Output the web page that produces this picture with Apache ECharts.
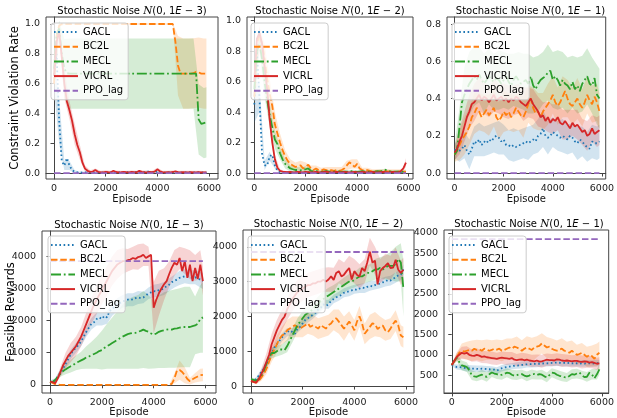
<!DOCTYPE html>
<html>
<head>
<meta charset="utf-8">
<script src="https://cdn.jsdelivr.net/npm/echarts@6/dist/echarts.min.js"></script>
<style>
html, body { margin: 0; padding: 0; background: #fff; }
#chart { width: 617px; height: 418px; }
</style>
</head>
<body>
<div id="chart"></div>
<script>
// ---------- tick labels ----------
const episodeTicks = [0, 2000, 4000, 6000];
const rateTicks = [0, 0.2, 0.4, 0.6, 0.8, 1.0];
const rateTicksLow = [0, 0.2, 0.4, 0.6, 0.8];
const rewardTicks = [0, 1000, 2000, 3000, 4000];
const rewardTicksFine = [500, 1000, 1500, 2000, 2500, 3000, 3500, 4000];

const methods = ['GACL', 'BC2L', 'MECL', 'VICRL', 'PPO_lag'];

// sample grid of the curves (every 100 episodes) and of the shaded spreads
const episodes = Array.from({ length: 60 }, (_, i) => i * 100);
const bandEpisodes = [0, 200, 400, 600, 800, 1000, 1200, 1400, 1600, 1800, 2000, 2200, 2400, 2600, 2800,
  3000, 3200, 3400, 3600, 3800, 4000, 4200, 4400, 4600, 4800, 5000, 5200, 5400, 5600, 5800, 5900];

// ---------- constraint violation rate, noise 1E-3 ----------
const rate3_gacl = [0.66,0.8,0.35,0.08,0.05,0.1,0.05,0.02,0.008,0.005, 0.004,0.003,0.005,0.004,0.006,0.004,0.003,0.005,0.004,0.003, 0.005,0.006,0.004,0.003,0.004,0.005,0.004,0.003,0.006,0.005, 0.004,0.005,0.007,0.004,0.003,0.006,0.012,0.006,0.004,0.005, 0.01,0.006,0.004,0.003,0.005,0.004,0.003,0.004,0.005,0.004, 0.003,0.005,0.004,0.006,0.004,0.003,0.004,0.005,0.004,0.005];
const rate3_bc2l = [0.6,0.92,0.99,1,1,1,1,1,1,1, 1,1,1,1,1,1,1,1,1,1, 1,1,1,1,1,1,1,1,1,1, 1,1,1,1,1,1,1,1,1,1, 1,1,1,1,1,1,1,0.88,0.72,0.667, 0.667,0.667,0.667,0.667,0.67,0.68,0.675,0.667,0.667,0.667];
const rate3_mecl = [0.7,0.93,0.97,0.8,0.7,0.67,0.667,0.667,0.667,0.667, 0.667,0.667,0.667,0.667,0.667,0.667,0.667,0.667,0.667,0.667, 0.667,0.667,0.667,0.667,0.667,0.667,0.667,0.667,0.667,0.667, 0.667,0.667,0.667,0.667,0.667,0.667,0.667,0.667,0.667,0.667, 0.667,0.667,0.667,0.667,0.667,0.667,0.667,0.667,0.667,0.667, 0.667,0.667,0.667,0.667,0.667,0.667,0.36,0.33,0.335,0.34];
const rate3_vicrl = [0.65,0.88,0.95,0.78,0.6,0.48,0.42,0.35,0.26,0.19, 0.14,0.07,0.03,0.015,0.008,0.01,0.02,0.008,0.006,0.005, 0.008,0.006,0.005,0.015,0.007,0.005,0.006,0.008,0.006,0.005, 0.007,0.006,0.005,0.015,0.008,0.006,0.005,0.007,0.006,0.01, 0.025,0.012,0.006,0.005,0.006,0.005,0.007,0.012,0.006,0.005, 0.006,0.004,0.005,0.006,0.005,0.004,0.006,0.005,0.004,0.005];
const rate3_gacl_sd = [0.1,0.15,0.03,0.03,0.01,0.005,0.005,0.005,0.005,0.005,0.005,0.005,0.005,0.005,0.005,0.005,0.005,0.005,0.005,0.005,0.005,0.005,0.005,0.005,0.005,0.005,0.005,0.005,0.005,0.005,0.005];
const rate3_bc2l_sd = [0.05,0.01,0.005,0.005,0.005,0.005,0.005,0.005,0.005,0.005,0.005,0.005,0.005,0.005,0.005,0.005,0.005,0.005,0.005,0.005,0.005,0.005,0.005,0.005,0.2,0.235,0.235,0.235,0.235,0.235,0.235];
const rate3_mecl_sd = [0.15,0.05,0.2,0.235,0.235,0.235,0.235,0.235,0.235,0.235,0.235,0.235,0.235,0.235,0.235,0.235,0.235,0.235,0.235,0.235,0.235,0.235,0.235,0.235,0.235,0.235,0.235,0.235,0.235,0.235,0.235];
const rate3_vicrl_sd = [0.1,0.05,0.1,0.06,0.07,0.05,0.02,0.01,0.01,0.01,0.01,0.01,0.01,0.01,0.01,0.01,0.01,0.01,0.01,0.01,0.01,0.01,0.01,0.01,0.01,0.01,0.01,0.01,0.01,0.01,0.01];

// ---------- constraint violation rate, noise 1E-2 ----------
const rate2_gacl = [0.45,0.8,0.5,0.13,0.05,0.05,0.11,0.12,0.05,0.015, 0.006,0.005,0.004,0.005,0.004,0.003,0.005,0.004,0.006,0.004, 0.003,0.005,0.004,0.003,0.004,0.005,0.003,0.004,0.005,0.004, 0.003,0.004,0.005,0.004,0.003,0.005,0.004,0.003,0.004,0.005, 0.004,0.003,0.005,0.004,0.003,0.004,0.005,0.004,0.003,0.004, 0.005,0.004,0.003,0.004,0.005,0.004,0.003,0.004,0.005,0.006];
const rate2_bc2l = [0.5,0.85,0.9,0.85,0.75,0.62,0.52,0.44,0.32,0.26, 0.2,0.15,0.11,0.08,0.06,0.05,0.04,0.045,0.05,0.03, 0.04,0.055,0.03,0.02,0.03,0.02,0.015,0.025,0.02,0.015, 0.02,0.015,0.02,0.015,0.02,0.03,0.05,0.07,0.06,0.04, 0.06,0.03,0.02,0.015,0.02,0.015,0.01,0.015,0.01,0.012, 0.01,0.015,0.01,0.012,0.01,0.008,0.01,0.012,0.01,0.008];
const rate2_mecl = [0.55,0.8,0.85,0.75,0.6,0.48,0.38,0.3,0.22,0.19, 0.13,0.09,0.06,0.045,0.03,0.025,0.02,0.02,0.018,0.02, 0.025,0.03,0.015,0.01,0.012,0.01,0.008,0.01,0.012,0.01, 0.008,0.01,0.012,0.01,0.008,0.01,0.009,0.01,0.012,0.01, 0.008,0.01,0.012,0.01,0.009,0.01,0.008,0.01,0.012,0.01, 0.015,0.022,0.012,0.01,0.008,0.01,0.009,0.01,0.008,0.008];
const rate2_vicrl = [0.6,0.88,0.92,0.85,0.7,0.55,0.35,0.2,0.09,0.035, 0.015,0.01,0.008,0.006,0.007,0.005,0.006,0.008,0.006,0.005, 0.007,0.006,0.005,0.006,0.008,0.006,0.005,0.007,0.01,0.006, 0.005,0.006,0.008,0.006,0.005,0.007,0.006,0.005,0.006,0.008, 0.006,0.005,0.007,0.006,0.005,0.006,0.008,0.006,0.005,0.006, 0.007,0.006,0.005,0.006,0.008,0.006,0.005,0.012,0.03,0.068];
const rate2_gacl_sd = [0.12,0.1,0.03,0.03,0.02,0.005,0.005,0.005,0.005,0.005,0.005,0.005,0.005,0.005,0.005,0.005,0.005,0.005,0.005,0.005,0.005,0.005,0.005,0.005,0.005,0.005,0.005,0.005,0.005,0.005,0.005];
const rate2_bc2l_sd = [0.1,0.05,0.1,0.1,0.08,0.06,0.04,0.03,0.03,0.03,0.03,0.02,0.02,0.02,0.02,0.02,0.02,0.02,0.03,0.03,0.03,0.015,0.015,0.015,0.015,0.015,0.015,0.015,0.015,0.015,0.015];
const rate2_mecl_sd = [0.1,0.05,0.1,0.08,0.06,0.04,0.03,0.02,0.02,0.02,0.02,0.01,0.01,0.01,0.01,0.01,0.01,0.01,0.01,0.01,0.01,0.01,0.01,0.01,0.01,0.01,0.01,0.01,0.01,0.01,0.01];
const rate2_vicrl_sd = [0.1,0.05,0.1,0.06,0.03,0.01,0.006,0.006,0.006,0.006,0.006,0.006,0.006,0.006,0.006,0.006,0.006,0.006,0.006,0.006,0.006,0.006,0.006,0.006,0.006,0.006,0.006,0.006,0.006,0.006,0.03];

// ---------- constraint violation rate, noise 1E-1 ----------
const rate1_gacl = [0.12,0.14,0.12,0.13,0.15,0.12,0.1,0.13,0.17,0.16, 0.18,0.15,0.17,0.16,0.18,0.17,0.19,0.2,0.19,0.17, 0.18,0.15,0.15,0.14,0.15,0.14,0.15,0.15,0.16,0.17, 0.16,0.17,0.18,0.17,0.2,0.21,0.24,0.2,0.19,0.2, 0.22,0.21,0.2,0.19,0.2,0.19,0.18,0.2,0.19,0.17, 0.16,0.18,0.17,0.15,0.14,0.13,0.17,0.16,0.16,0.17];
const rate1_bc2l = [0.1,0.12,0.15,0.18,0.2,0.22,0.25,0.3,0.32,0.35, 0.33,0.3,0.32,0.34,0.31,0.33,0.35,0.3,0.28,0.3, 0.33,0.31,0.33,0.3,0.32,0.35,0.33,0.31,0.3,0.33, 0.37,0.4,0.35,0.32,0.33,0.3,0.33,0.35,0.37,0.39, 0.42,0.38,0.36,0.38,0.41,0.44,0.4,0.37,0.36,0.38, 0.4,0.37,0.35,0.38,0.42,0.39,0.37,0.41,0.38,0.33];
const rate1_mecl = [0.1,0.12,0.25,0.38,0.42,0.45,0.48,0.5,0.52,0.5, 0.53,0.5,0.48,0.5,0.52,0.5,0.49,0.51,0.5,0.48, 0.5,0.52,0.49,0.47,0.5,0.52,0.5,0.48,0.49,0.5, 0.48,0.52,0.47,0.45,0.48,0.5,0.51,0.52,0.54,0.55, 0.5,0.52,0.5,0.47,0.5,0.48,0.47,0.45,0.49,0.45, 0.47,0.44,0.48,0.5,0.52,0.48,0.47,0.51,0.42,0.4];
const rate1_vicrl = [0.11,0.13,0.17,0.2,0.25,0.3,0.33,0.37,0.38,0.4, 0.42,0.39,0.41,0.4,0.38,0.4,0.42,0.39,0.4,0.41, 0.39,0.4,0.38,0.4,0.39,0.41,0.4,0.38,0.37,0.36, 0.38,0.4,0.37,0.35,0.33,0.3,0.31,0.28,0.3,0.27, 0.29,0.28,0.3,0.27,0.26,0.28,0.26,0.24,0.27,0.25, 0.26,0.24,0.22,0.23,0.2,0.21,0.24,0.21,0.22,0.23];
const rate1_gacl_sd = [0.04,0.06,0.07,0.08,0.08,0.09,0.08,0.08,0.08,0.09,0.08,0.08,0.09,0.08,0.08,0.09,0.08,0.09,0.1,0.09,0.08,0.08,0.09,0.08,0.08,0.09,0.08,0.08,0.09,0.09,0.09];
const rate1_bc2l_sd = [0.04,0.08,0.1,0.1,0.11,0.1,0.1,0.11,0.1,0.1,0.11,0.1,0.1,0.1,0.11,0.1,0.11,0.1,0.1,0.11,0.1,0.1,0.11,0.1,0.1,0.11,0.1,0.1,0.1,0.1,0.1];
const rate1_mecl_sd = [0.05,0.1,0.15,0.17,0.16,0.15,0.16,0.15,0.15,0.16,0.15,0.15,0.14,0.15,0.15,0.16,0.15,0.15,0.14,0.15,0.15,0.16,0.15,0.15,0.14,0.15,0.15,0.15,0.15,0.16,0.16];
const rate1_vicrl_sd = [0.04,0.07,0.08,0.09,0.1,0.09,0.09,0.08,0.09,0.08,0.09,0.09,0.08,0.08,0.09,0.08,0.08,0.08,0.07,0.08,0.08,0.07,0.08,0.08,0.07,0.08,0.07,0.08,0.07,0.08,0.08];

// ---------- feasible rewards, noise 1E-3 ----------
const rew3_gacl = [100,80,150,250,380,500,650,800,950,1080, 1150,1250,1350,1500,1650,1780,1900,1950,2050,2100, 2050,2150,2100,2300,2350,2450,2500,2550,2600,2620, 2650,2670,2650,2700,2720,2700,2720,2780,2850,2880, 2920,2900,2950,2970,3000,3080,3120,3200,3230,3280, 3330,3350,3380,3390,3350,3330,3350,3300,3280,3230];
const rew3_bc2l = [100,60,20,5,0,0,0,0,0,0, 0,0,0,0,0,0,0,0,0,0, 0,0,0,0,0,0,0,0,0,0, 0,0,0,0,0,0,0,0,0,0, 0,0,0,0,0,0,0,30,200,450, 460,400,300,180,110,170,220,260,300,310];
const rew3_mecl = [100,80,150,250,350,420,480,530,580,620, 680,720,760,800,850,880,920,960,1000,1050, 1080,1150,1200,1250,1300,1350,1400,1450,1500,1540, 1580,1600,1620,1620,1650,1680,1720,1680,1650,1600, 1560,1600,1650,1680,1700,1720,1730,1720,1750,1760, 1780,1790,1800,1800,1800,1830,1850,1900,2050,2100];
const rew3_vicrl = [100,80,50,200,400,600,750,900,1000,1100, 1200,1350,1500,1700,1900,2100,2300,2500,2650,2800, 2950,3100,3250,3400,3550,3650,3750,3800,3850,3850, 3880,3900,3950,3920,3980,4000,4050,3950,4000,4050, 2400,2650,2850,3000,3130,3230,3450,3650,3800,3740, 3950,3540,3850,3330,3740,3230,3640,3300,3740,3230];
const rew3_gacl_sd = [30,60,100,120,150,150,150,150,180,200,200,200,200,200,200,200,200,200,180,180,200,200,200,200,200,220,220,220,220,250,250];
const rew3_bc2l_sd = [30,10,0,0,0,0,0,0,0,0,0,0,0,0,0,0,0,0,0,0,0,0,0,0,150,300,250,100,150,200,200];
const rew3_mecl_sd = [30,50,100,150,200,230,270,350,420,500,600,700,800,900,1000,1080,1120,1150,1200,1150,1050,1130,1180,1200,1220,1230,1250,1250,900,1050,1100];
const rew3_vicrl_sd = [30,50,150,250,300,300,300,350,400,450,450,450,450,450,400,350,350,400,350,300,800,700,500,400,400,350,400,450,400,450,450];

// ---------- feasible rewards, noise 1E-2 ----------
const rew2_gacl = [150,150,200,300,400,500,650,800,950,1100, 1200,1300,1400,1500,1550,1600,1550,1500,1650,1700, 1800,1900,1950,2000,2050,2100,2200,2250,2350,2300, 2350,2450,2500,2550,2580,2620,2680,2700,2720,2750, 2780,2760,2800,2830,2810,2850,2880,2860,2900,2920, 2950,2980,3000,3050,3030,3080,3120,3180,3200,3350];
const rew2_bc2l = [150,120,100,150,250,350,500,700,900,1050, 1200,1350,1450,1500,1600,1650,1700,1750,1700,1650, 1700,1750,1800,1700,1750,1700,1650,1750,1700,1650, 1750,1800,1900,1950,1850,1750,1650,1750,1850,1750, 1600,1850,2000,1800,1500,1600,1700,1800,1780,1640, 1700,1740,1600,1550,1650,1780,1880,1740,1450,1400];
const rew2_mecl = [200,180,150,200,300,450,650,850,950,950, 1000,1050,1050,1030,1150,1300,1450,1600,1750,1850, 1950,2050,2100,2150,2200,2300,2350,2450,2500,2550, 2600,2650,2700,2750,2800,2850,2900,2950,3000,3000, 3050,3100,3150,3150,3200,3250,3250,3300,3350,3350, 3400,3350,3400,3450,3450,3450,3500,3650,3550,2800];
const rew2_vicrl = [150,120,100,200,350,500,700,900,1200,1400, 1600,1750,1900,2000,2200,2350,2500,2600,2700,2750, 2800,2850,2900,2900,2950,2950,3000,3000,3050,3000, 3060,3150,3050,3250,3300,3150,3200,3300,3390,3060, 3300,3200,3150,3390,3300,3550,3860,3550,3600,2920, 3300,3390,3450,3530,3390,3400,3630,3340,3250,3340];
const rew2_gacl_sd = [30,50,80,100,120,120,120,120,120,120,130,130,120,120,130,130,120,130,130,140,130,130,140,140,130,140,140,140,150,150,150];
const rew2_bc2l_sd = [30,50,100,150,200,250,250,300,300,300,300,300,300,300,300,300,300,350,350,300,300,300,300,350,350,300,300,300,300,300,300];
const rew2_mecl_sd = [50,50,80,120,150,150,150,180,200,200,200,200,200,220,220,220,200,200,220,220,220,250,250,250,300,300,350,400,500,550,800];
const rew2_vicrl_sd = [30,50,150,250,300,300,300,300,350,350,350,350,350,350,350,350,350,350,350,350,350,350,350,400,400,350,350,350,350,350,350];

// ---------- feasible rewards, noise 1E-1 ----------
const rew1_gacl = [750,720,700,700,690,680,670,665,660,660, 655,650,660,655,650,645,640,635,610,640, 670,690,700,710,720,730,735,740,750,760, 765,770,770,775,780,780,785,790,790,795, 800,805,810,805,800,800,795,800,790,795, 790,785,790,785,790,790,785,790,795,800];
const rew1_bc2l = [750,850,950,1050,1100,1080,1100,1120,1100,1150, 1120,1140,1100,1150,1130,1100,1120,1150,1130,1150, 1100,1120,1150,1180,1150,1200,1180,1150,1100,1150, 1180,1150,1120,1180,1200,1220,1280,1230,1180,1200, 1150,1120,1100,1130,1150,1100,1080,1050,1100,1050, 1000,1020,1050,1000,950,1000,970,900,1000,1050];
const rew1_mecl = [750,850,930,820,740,720,700,620,500,470, 460,490,510,470,460,520,565,540,525,500, 508,530,560,550,510,484,500,520,525,490, 468,490,520,525,500,525,510,470,443,500, 560,550,510,484,470,450,443,480,525,510, 540,565,500,450,460,560,520,420,520,640];
const rew1_vicrl = [750,850,950,1000,1050,1030,1050,1000,980,975, 1000,980,950,960,940,930,920,910,900,920, 930,920,910,900,920,880,870,880,890,866, 880,860,850,840,860,834,840,860,880,870, 870,860,890,880,860,850,860,850,840,850, 850,830,826,840,830,810,820,800,780,790];
const rew1_gacl_sd = [30,60,70,80,85,80,80,75,80,85,80,80,75,80,85,80,80,85,80,75,80,85,80,80,75,80,85,80,80,85,80];
const rew1_bc2l_sd = [30,100,180,220,250,250,260,250,240,250,260,250,250,270,260,280,300,260,250,260,250,250,260,240,250,250,240,250,260,280,280];
const rew1_mecl_sd = [30,80,120,120,120,110,120,120,110,120,120,110,120,120,110,120,120,110,120,120,110,120,120,110,120,120,110,120,130,130,130];
const rew1_vicrl_sd = [30,100,150,160,150,160,150,150,160,150,150,160,150,150,160,150,150,150,160,150,150,150,160,150,150,150,160,150,150,150,150];

// PPO_lag reference level for each row
const ppoLagRate = 0;
const ppoLagReward = 3850;

// ---------- styling ----------
const palette = { GACL: '#1f77b4', BC2L: '#ff7f0e', MECL: '#2ca02c', VICRL: '#d62728', PPO_lag: '#9467bd' };
const dashes = { GACL: [1.6, 2.6], BC2L: [6.5, 2.8], MECL: [10, 2.8, 1.8, 2.8], VICRL: 'solid', PPO_lag: [6.5, 2.8] };
const FONT = 'DejaVu Sans';

function rgba(hex, a) {
  const n = parseInt(hex.slice(1), 16);
  return 'rgba(' + (n >> 16) + ',' + ((n >> 8) & 255) + ',' + (n & 255) + ',' + a + ')';
}

const panels = [
  { rect: { left: 46, top: 17, width: 172, height: 162 }, x: [-310, 6348], y: [-0.04, 1.047], yTicks: rateTicks, dec: 1,
    exp: '3', means: [rate3_gacl, rate3_bc2l, rate3_mecl, rate3_vicrl], spreads: [rate3_gacl_sd, rate3_bc2l_sd, rate3_mecl_sd, rate3_vicrl_sd],
    ppo: ppoLagRate, legend: [51, 23], yName: 'Constraint Violation Rate', xGap: 15 },
  { rect: { left: 247, top: 17, width: 166, height: 162 }, x: [-284, 6175], y: [-0.039, 1.024], yTicks: rateTicks, dec: 1,
    exp: '2', means: [rate2_gacl, rate2_bc2l, rate2_mecl, rate2_vicrl], spreads: [rate2_gacl_sd, rate2_bc2l_sd, rate2_mecl_sd, rate2_vicrl_sd],
    ppo: ppoLagRate, legend: [251, 23], xGap: 15 },
  { rect: { left: 447, top: 17, width: 167, height: 162 }, x: [-310, 6155], y: [-0.032, 0.838], yTicks: rateTicksLow, dec: 1,
    exp: '1', means: [rate1_gacl, rate1_bc2l, rate1_mecl, rate1_vicrl], spreads: [rate1_gacl_sd, rate1_bc2l_sd, rate1_mecl_sd, rate1_vicrl_sd],
    ppo: ppoLagRate, legend: [452, 23], xGap: 15 },
  { rect: { left: 42, top: 231, width: 174, height: 164 }, x: [-309, 6405], y: [-255, 4790], yTicks: rewardTicks, dec: 0,
    exp: '3', means: [rew3_gacl, rew3_bc2l, rew3_mecl, rew3_vicrl], spreads: [rew3_gacl_sd, rew3_bc2l_sd, rew3_mecl_sd, rew3_vicrl_sd],
    ppo: ppoLagReward, legend: [48, 236], yName: 'Feasible Rewards', xGap: 14 },
  { rect: { left: 243, top: 230, width: 171, height: 165 }, x: [-310, 6310], y: [-199, 4482], yTicks: rewardTicks, dec: 0,
    exp: '2', means: [rew2_gacl, rew2_bc2l, rew2_mecl, rew2_vicrl], spreads: [rew2_gacl_sd, rew2_bc2l_sd, rew2_mecl_sd, rew2_vicrl_sd],
    ppo: ppoLagReward, legend: [248, 236], xGap: 14 },
  { rect: { left: 444, top: 230, width: 170, height: 164 }, x: [-310, 6271], y: [60, 4073], yTicks: rewardTicksFine, dec: 0,
    exp: '1', means: [rew1_gacl, rew1_bc2l, rew1_mecl, rew1_vicrl], spreads: [rew1_gacl_sd, rew1_bc2l_sd, rew1_mecl_sd, rew1_vicrl_sd],
    ppo: ppoLagReward, legend: [449, 236], xGap: 14 }
];

// shaded spread (mean +/- spread) as one polygon through the axis scales
function bandSeries(gi, color, mean, spread) {
  return {
    type: 'custom', xAxisIndex: gi, yAxisIndex: gi, silent: true, z: 1, animation: false,
    data: [[0, 0]], encode: { x: 0, y: 1 },
    renderItem: function (params, api) {
      const upper = [], lower = [];
      bandEpisodes.forEach(function (e, j) {
        const m = mean[e / 100];
        upper.push(api.coord([e, m + spread[j]]));
        lower.push(api.coord([e, m - spread[j]]));
      });
      return { type: 'polygon', shape: { points: upper.concat(lower.reverse()) }, style: { fill: rgba(color, 0.2) } };
    }
  };
}

function lineSeries(gi, name, values) {
  return {
    type: 'line', name: name, xAxisIndex: gi, yAxisIndex: gi, silent: true, z: 3, animation: false,
    symbol: 'none', showSymbol: false,
    data: episodes.map(function (e, k) { return [e, values[k]]; }),
    lineStyle: { color: palette[name], width: 1.8, type: dashes[name] },
    itemStyle: { color: palette[name] }
  };
}

const grids = [], xAxes = [], yAxes = [], series = [], legends = [], titles = [];
panels.forEach(function (p, gi) {
  grids.push(Object.assign({ show: true, borderColor: '#444', borderWidth: 1, backgroundColor: 'transparent' }, p.rect));
  const tickStyle = { show: true, length: 3.5, inside: false, lineStyle: { color: '#444', width: 1 } };
  xAxes.push({
    type: 'value', gridIndex: gi, min: p.x[0], max: p.x[1],
    name: 'Episode', nameLocation: 'middle', nameGap: p.xGap, nameMoveOverlap: false,
    nameTextStyle: { fontFamily: FONT, fontSize: 10, color: '#111', verticalAlign: 'top' },
    axisLine: { show: true, lineStyle: { color: '#444', width: 1 } },
    axisTick: Object.assign({ customValues: episodeTicks }, tickStyle),
    axisLabel: { customValues: episodeTicks, fontFamily: FONT, fontSize: 9.5, color: '#222', margin: 5,
      formatter: function (v) { return String(Math.round(v)); } },
    splitLine: { show: false }
  });
  yAxes.push({
    type: 'value', gridIndex: gi, min: p.y[0], max: p.y[1],
    name: p.yName || '', nameLocation: 'middle', nameGap: 25, nameMoveOverlap: false,
    nameTextStyle: { fontFamily: FONT, fontSize: 11.5, color: '#000' },
    axisLine: { show: true, lineStyle: { color: '#444', width: 1 } },
    axisTick: Object.assign({ customValues: p.yTicks }, tickStyle),
    axisLabel: {
      customValues: p.yTicks, fontFamily: FONT, fontSize: 9.5, color: '#222', margin: 6,
      formatter: function (v) { return p.dec ? v.toFixed(p.dec) : String(Math.round(v)); }
    },
    splitLine: { show: false }
  });
  ['GACL', 'BC2L', 'MECL', 'VICRL'].forEach(function (m, k) {
    series.push(bandSeries(gi, palette[m], p.means[k], p.spreads[k]));
  });
  ['GACL', 'BC2L', 'MECL', 'VICRL'].forEach(function (m, k) {
    series.push(lineSeries(gi, m, p.means[k]));
  });
  series.push(lineSeries(gi, 'PPO_lag', episodes.map(function () { return p.ppo; })));

  legends.push({
    data: methods, orient: 'vertical', left: p.legend[0], top: p.legend[1],
    itemWidth: 24, itemHeight: 10, itemGap: 4.7, padding: [4, 5, 4, 2],
    backgroundColor: 'rgba(255,255,255,0.8)', borderColor: '#ccc', borderWidth: 1, borderRadius: 3,
    selectedMode: false,
    itemStyle: { color: 'rgba(0,0,0,0)', borderColor: 'rgba(0,0,0,0)', borderWidth: 0 },
    textStyle: { fontFamily: FONT, fontSize: 10, color: '#000' }
  });
  titles.push({
    text: '{t|Stochastic Noise }{n|N}{t|(0, 1}{e|E}{t| − ' + p.exp + ')}',
    left: p.rect.left + p.rect.width / 2, top: p.rect.top - 11, textAlign: 'center', padding: 0,
    textStyle: {
      fontWeight: 'normal',
      rich: {
        t: { fontFamily: FONT, fontSize: 10, fontWeight: 'normal', color: '#000' },
        n: { fontFamily: 'DejaVu Serif', fontStyle: 'italic', fontWeight: 'normal', fontSize: 10.5, color: '#000' },
        e: { fontFamily: FONT, fontStyle: 'italic', fontWeight: 'normal', fontSize: 10, color: '#000' }
      }
    }
  });
});

const chart = echarts.init(document.getElementById('chart'), null, { renderer: 'canvas' });
chart.setOption({
  animation: false,
  backgroundColor: '#fff',
  title: titles,
  legend: legends,
  grid: grids,
  xAxis: xAxes,
  yAxis: yAxes,
  series: series
});
</script>
</body>
</html>
